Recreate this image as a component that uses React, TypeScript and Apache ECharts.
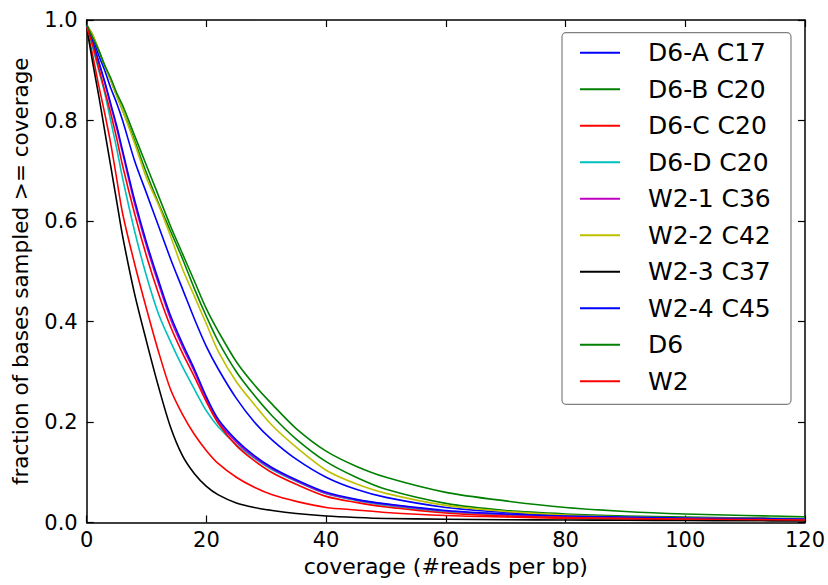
import React, { useEffect, useRef } from "react";
import * as echarts from "echarts";

// coverage (#reads per bp) sample positions
const coverage = [0, 1, 2, 3, 4, 5, 6, 8, 10, 12, 14, 16, 18, 20, 22, 25, 28, 31, 35, 40, 45, 50, 60, 70, 80, 90, 100, 110, 120];

const seriesNames = ["D6-A C17", "D6-B C20", "D6-C C20", "D6-D C20", "W2-1 C36", "W2-2 C42", "W2-3 C37", "W2-4 C45", "D6", "W2"];
const seriesColors = ["#0000ff", "#008000", "#ff0000", "#00bfbf", "#bf00bf", "#bfbf00", "#000000", "#0000ff", "#008000", "#ff0000"];

const d6A = [0.99, 0.965, 0.93, 0.9, 0.865, 0.835, 0.8, 0.72, 0.655, 0.59, 0.525, 0.465, 0.405, 0.35, 0.305, 0.247, 0.2, 0.164, 0.126, 0.09, 0.066, 0.05, 0.03, 0.02, 0.014, 0.011, 0.009, 0.008, 0.007];
const d6B = [0.99, 0.97, 0.94, 0.91, 0.88, 0.85, 0.82, 0.76, 0.695, 0.635, 0.58, 0.525, 0.465, 0.41, 0.36, 0.3, 0.253, 0.212, 0.166, 0.121, 0.09, 0.066, 0.038, 0.024, 0.017, 0.013, 0.011, 0.009, 0.008];
const d6C = [0.985, 0.93, 0.87, 0.815, 0.755, 0.685, 0.615, 0.515, 0.425, 0.34, 0.265, 0.215, 0.175, 0.143, 0.117, 0.09, 0.07, 0.055, 0.042, 0.03, 0.025, 0.02, 0.014, 0.011, 0.008, 0.007, 0.006, 0.005, 0.004];
const d6D = [0.985, 0.945, 0.9, 0.855, 0.8, 0.745, 0.685, 0.58, 0.49, 0.415, 0.36, 0.31, 0.265, 0.222, 0.19, 0.155, 0.128, 0.105, 0.082, 0.057, 0.044, 0.034, 0.021, 0.015, 0.011, 0.009, 0.008, 0.007, 0.006];
const w21 = [0.99, 0.955, 0.915, 0.875, 0.83, 0.785, 0.735, 0.635, 0.55, 0.475, 0.405, 0.35, 0.3, 0.245, 0.2, 0.16, 0.13, 0.107, 0.083, 0.058, 0.045, 0.036, 0.023, 0.016, 0.012, 0.01, 0.009, 0.008, 0.007];
const w22 = [0.99, 0.97, 0.94, 0.91, 0.88, 0.85, 0.82, 0.755, 0.685, 0.632, 0.57, 0.505, 0.45, 0.395, 0.34, 0.28, 0.235, 0.193, 0.15, 0.104, 0.077, 0.058, 0.034, 0.022, 0.015, 0.011, 0.009, 0.008, 0.007];
const w23 = [0.985, 0.915, 0.85, 0.78, 0.71, 0.64, 0.57, 0.455, 0.36, 0.27, 0.19, 0.133, 0.097, 0.072, 0.055, 0.039, 0.03, 0.024, 0.018, 0.013, 0.01, 0.008, 0.0065, 0.0055, 0.005, 0.0045, 0.004, 0.0035, 0.003];
const w24 = [0.99, 0.957, 0.918, 0.878, 0.834, 0.79, 0.74, 0.642, 0.557, 0.482, 0.412, 0.356, 0.305, 0.25, 0.205, 0.164, 0.133, 0.109, 0.085, 0.06, 0.046, 0.037, 0.024, 0.017, 0.013, 0.011, 0.009, 0.008, 0.007];
const d6All = [0.99, 0.965, 0.94, 0.91, 0.885, 0.855, 0.83, 0.77, 0.71, 0.65, 0.59, 0.535, 0.48, 0.425, 0.38, 0.32, 0.274, 0.235, 0.187, 0.142, 0.112, 0.09, 0.06, 0.043, 0.03, 0.022, 0.017, 0.014, 0.0115];
const w2All = [0.985, 0.95, 0.905, 0.86, 0.815, 0.765, 0.71, 0.615, 0.53, 0.455, 0.39, 0.337, 0.29, 0.24, 0.197, 0.153, 0.123, 0.099, 0.076, 0.052, 0.04, 0.031, 0.019, 0.013, 0.01, 0.008, 0.007, 0.006, 0.005];

const seriesValues = [d6A, d6B, d6C, d6D, w21, w22, w23, w24, d6All, w2All];

const FONT = "DejaVu Sans";

export default function App() {
  const ref = useRef<HTMLDivElement>(null);

  useEffect(() => {
    if (!ref.current) return;
    const chart = echarts.init(ref.current, null, { renderer: "svg" });

    const axisLine = { show: true, onZero: false, lineStyle: { color: "#000", width: 1.5 } };
    const axisTick = { show: true, inside: true, length: 7, lineStyle: { color: "#000", width: 1.2 } };

    const series = seriesNames.map((name, i) => ({
      name,
      type: "line",
      xAxisIndex: 0,
      yAxisIndex: 0,
      data: coverage.map((x, j) => [x, seriesValues[i][j]]),
      showSymbol: false,
      symbol: "none",
      smooth: 0.3,
      lineStyle: { color: seriesColors[i], width: 1.6, join: "round" },
      itemStyle: { color: seriesColors[i] },
      emphasis: { disabled: true },
      z: 2,
    }));

    chart.setOption({
      animation: false,
      textStyle: { fontFamily: FONT },
      grid: { left: 86.7, right: 21.3, top: 20, bottom: 62.5, containLabel: false },
      xAxis: [
        {
          type: "value",
          position: "bottom",
          min: 0,
          max: 120,
          interval: 20,
          axisLine,
          axisTick,
          splitLine: { show: false },
          axisLabel: { color: "#000", fontSize: 21, margin: 7, fontFamily: FONT },
          name: "coverage (#reads per bp)",
          nameLocation: "middle",
          nameGap: 33,
          nameTextStyle: { color: "#000", fontSize: 22, fontFamily: FONT },
        },
        {
          type: "value",
          position: "top",
          min: 0,
          max: 120,
          interval: 20,
          axisLine,
          axisTick,
          splitLine: { show: false },
          axisLabel: { show: false },
        },
      ],
      yAxis: [
        {
          type: "value",
          position: "left",
          min: 0,
          max: 1,
          interval: 0.2,
          axisLine,
          axisTick,
          splitLine: { show: false },
          axisLabel: {
            color: "#000",
            fontSize: 21,
            margin: 9,
            fontFamily: FONT,
            formatter: (v: number) => v.toFixed(1),
          },
          name: "fraction of bases sampled >= coverage",
          nameLocation: "middle",
          nameGap: 55,
          nameTextStyle: { color: "#000", fontSize: 21.5, fontFamily: FONT },
        },
        {
          type: "value",
          position: "right",
          min: 0,
          max: 1,
          interval: 0.2,
          axisLine,
          axisTick,
          splitLine: { show: false },
          axisLabel: { show: false },
        },
      ],
      legend: {
        orient: "vertical",
        left: 580,
        top: 40.3,
        padding: 0,
        itemWidth: 40,
        itemHeight: 2,
        itemGap: 11.5,
        icon: "rect",
        selectedMode: false,
        data: seriesNames,
        z: 5,
        textStyle: {
          color: "#000",
          fontSize: 25,
          lineHeight: 25,
          fontFamily: FONT,
          padding: [0, 0, 0, 23],
        },
      },
      graphic: [
        {
          type: "rect",
          z: 4,
          shape: { x: 562, y: 32.7, width: 229, height: 371.6, r: 4 },
          style: { fill: "#ffffff", stroke: "#808080", lineWidth: 1.2 },
        },
      ],
      series,
    });

    return () => chart.dispose();
  }, []);

  return (
    <div
      ref={ref}
      style={{ position: "fixed", left: 0, top: 0, width: 828, height: 585, background: "#fff" }}
    />
  );
}
